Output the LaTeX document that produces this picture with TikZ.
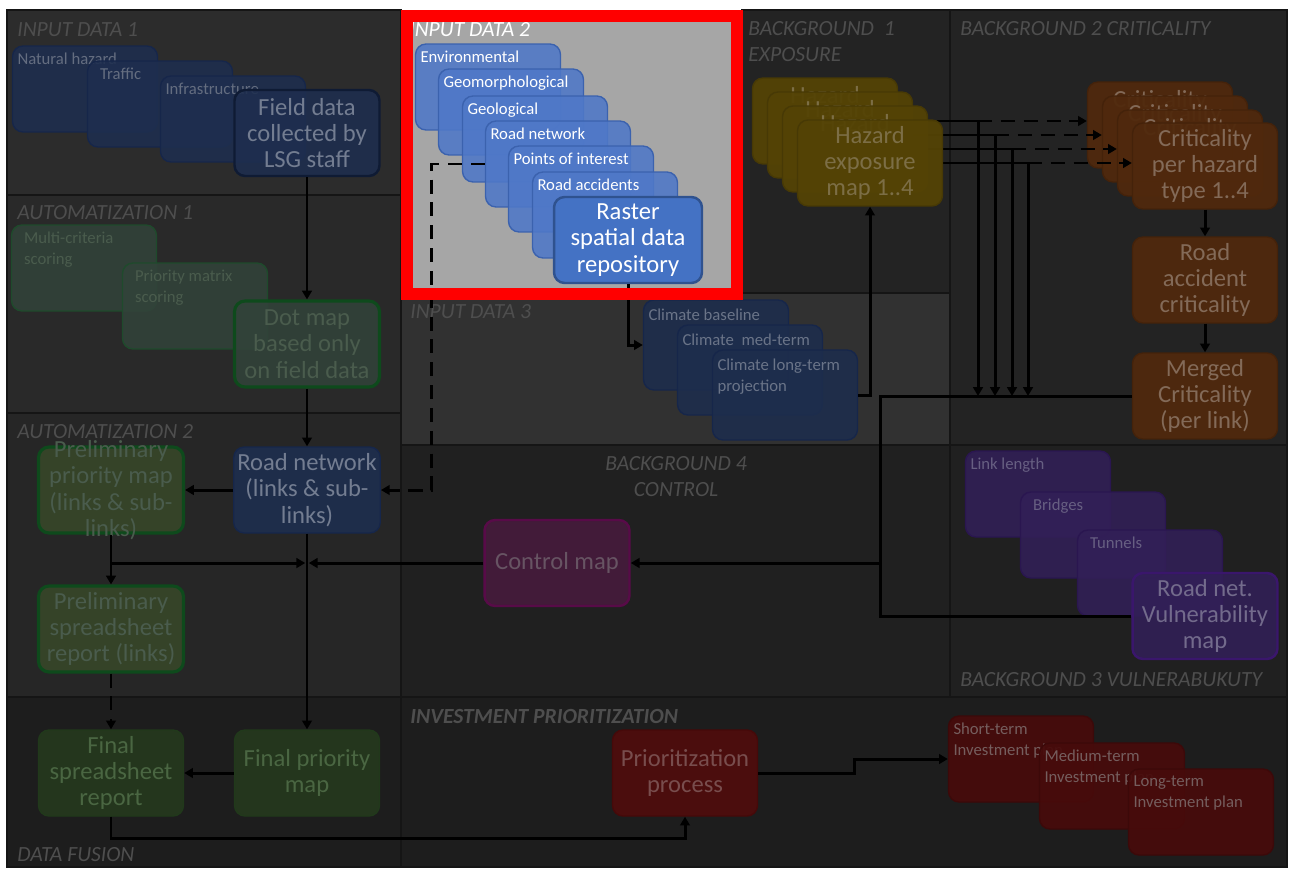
\documentclass[tikz,border=0pt]{standalone}
\usepackage{fontspec}
\setmainfont{Carlito}
\usetikzlibrary{arrows.meta,positioning,calc,backgrounds}
\definecolor{pnledge}{HTML}{151515}
\definecolor{pnltext}{HTML}{4E4E4E}
\definecolor{pnlin}{HTML}{2C2C2C}
\definecolor{pnlauto}{HTML}{292929}
\definecolor{pnlautob}{HTML}{262626}
\definecolor{pnldark}{HTML}{1D1D1D}
\definecolor{pnlbg}{HTML}{232323}
\definecolor{pnlbgb}{HTML}{202020}
\definecolor{pnlclim}{HTML}{313131}
\definecolor{pnlgray}{HTML}{A6A6A6}
\definecolor{hilite}{HTML}{FF0000}
\definecolor{blufill}{HTML}{1E2E4F}
\definecolor{bluline}{HTML}{16264A}
\definecolor{blutext}{HTML}{737D91}
\definecolor{blustext}{HTML}{646D80}
\definecolor{grnfill}{HTML}{32433A}
\definecolor{grnline}{HTML}{1F4A2C}
\definecolor{grntext}{HTML}{4A5C4D}
\definecolor{olvfill}{HTML}{384829}
\definecolor{olvline}{HTML}{0E4A1C}
\definecolor{finfill}{HTML}{253A1E}
\definecolor{finline}{HTML}{21391B}
\definecolor{fintext}{HTML}{4A6642}
\definecolor{in2fill}{HTML}{4F78C8}
\definecolor{in2line}{HTML}{3B62AE}
\definecolor{rasfill}{HTML}{4472C4}
\definecolor{rasline}{HTML}{2F528F}
\definecolor{hazfill}{HTML}{544305}
\definecolor{hazline}{HTML}{473905}
\definecolor{haztext}{HTML}{7C6E46}
\definecolor{crifill}{HTML}{50290D}
\definecolor{criline}{HTML}{44220A}
\definecolor{critext}{HTML}{836A58}
\definecolor{climfill}{HTML}{1D2D4D}
\definecolor{climtext}{HTML}{6A7488}
\definecolor{purfill}{HTML}{321F57}
\definecolor{purline}{HTML}{2A1650}
\definecolor{purtext}{HTML}{675F82}
\definecolor{vultext}{HTML}{736B8C}
\definecolor{vulline}{HTML}{3A166C}
\definecolor{ctlfill}{HTML}{471B3D}
\definecolor{ctlline}{HTML}{580B48}
\definecolor{ctltext}{HTML}{675463}
\definecolor{procfill}{HTML}{520B0B}
\definecolor{proctext}{HTML}{784D4D}
\definecolor{invfill}{HTML}{470B0B}
\definecolor{invtext}{HTML}{755E5E}
\newcommand{\bigtxt}{\fontsize{14}{15}\selectfont}
\newcommand{\smtxt}{\fontsize{9.5}{12}\selectfont}
\newcommand{\pnltxt}{\fontsize{12.3}{14.7}\selectfont\itshape}
\newcommand{\stk}[1]{\parbox[t][1.45cm][t]{2.7cm}{\raggedright #1}}
\newcommand{\topline}[1]{\parbox[c][1.4cm][t]{2.7cm}{\centering #1}}
\pgfdeclarelayer{wires}
\pgfsetlayers{background,wires,main}

\begin{document}
\begin{tikzpicture}[x=0.02cm, y=-0.02cm,
    box/.style={rectangle, rounded corners=6pt, minimum width=2.9cm,
        minimum height=1.72cm, inner sep=2pt, align=center, font=\bigtxt,
        line width=0.8pt, fill opacity=0.88, text opacity=1},
    stackbox/.style={box, font=\smtxt},
    blustk/.style={stackbox, fill=blufill, draw=bluline, text=blustext},
    blubox/.style={box, fill=blufill, draw=bluline, text=blutext},
    grnstk/.style={stackbox, fill=grnfill, draw=grnline, text=grntext},
    dotbox/.style={box, fill=grnfill, draw=olvline, line width=1.8pt, text=grntext},
    prelbox/.style={box, fill=olvfill, draw=olvline, line width=1.8pt, text=grntext},
    finbox/.style={box, fill=finfill, draw=finline, text=fintext},
    in2stk/.style={stackbox, fill=in2fill, draw=in2line, text=white},
    rasbox/.style={box, fill=rasfill, draw=rasline, line width=1.4pt, text=white,
        minimum width=2.96cm, fill opacity=1},
    hazbox/.style={box, fill=hazfill, draw=hazline, text=haztext, fill opacity=0.95},
    cribox/.style={box, fill=crifill, draw=criline, text=critext, fill opacity=0.95},
    climstk/.style={stackbox, fill=climfill, draw=bluline, text=climtext,
        minimum height=1.8cm},
    purstk/.style={stackbox, fill=purfill, draw=purline, text=purtext},
    purbox/.style={box, fill=purfill, draw=vulline, line width=1.4pt, text=vultext},
    ctlbox/.style={box, fill=ctlfill, draw=ctlline, line width=1.4pt, text=ctltext},
    procbox/.style={box, fill=procfill, draw=procfill!85!black, text=proctext},
    invstk/.style={stackbox, fill=invfill, draw=invfill!85!black, text=invtext,
        fill opacity=0.93},
    pnl/.style={draw=pnledge, line width=1pt},
    pnllabel/.style={font=\pnltxt, text=pnltext, anchor=west, inner sep=0pt,
        align=left},
    line/.style={line width=1.7pt},
    wire/.style={line, -{Triangle[length=5pt,width=5.5pt]}},
    dwire/.style={wire, dash pattern=on 8pt off 5pt}
]
\useasboundingbox (0,0) rectangle (1291,869);

% panels
\begin{scope}[on background layer]
\fill[white] (0,0) rectangle (1291,869);
\filldraw[pnl, fill=pnlin] (7,10) rectangle (401,195);
\filldraw[pnl, fill=pnlauto] (7,195) rectangle (401,413);
\filldraw[pnl, fill=pnlautob] (7,413) rectangle (401,697);
\filldraw[pnl, fill=pnldark] (7,697) rectangle (401,867);
\filldraw[pnl, fill=pnlbg] (742,10) rectangle (950,293);
\filldraw[pnl, fill=pnlclim] (401,293) rectangle (950,445);
\filldraw[pnl, fill=pnlbg] (950,10) rectangle (1287,445);
\filldraw[pnl, fill=pnlbgb] (401,445) rectangle (950,697);
\filldraw[pnl, fill=pnlbgb] (950,445) rectangle (1287,697);
\filldraw[pnl, fill=pnldark] (401,697) rectangle (1287,867);
\fill[pnlgray] (401,10) rectangle (742,293);
\end{scope}

\node[pnllabel] (lin1) at (17,30) {INPUT DATA 1};
\node[pnllabel] (lau1) at (17,213) {AUTOMATIZATION 1};
\node[pnllabel] (lau2) at (17,432) {AUTOMATIZATION 2};
\node[pnllabel] (lfus) at (17,855) {DATA FUSION};
\node[pnllabel, text=white] (lin2) at (409,30) {INPUT DATA 2};
\node[pnllabel, anchor=north west] (lbg1) at (748,21) {BACKGROUND\ \ 1\\EXPOSURE};
\node[pnllabel] (lbg2) at (960,29) {BACKGROUND 2 CRITICALITY};
\node[pnllabel] (lin3) at (410,312) {INPUT DATA 3};
\node[pnllabel, anchor=north, align=center] (lbg4) at (676,456) {BACKGROUND 4\\CONTROL};
\node[pnllabel] (lbg3) at (960,680) {BACKGROUND 3 VULNERABUKUTY};
\node[pnllabel, font=\pnltxt\bfseries] (linv) at (410,716) {INVESTMENT PRIORITIZATION};

% input data 1
\node[blustk] (nathaz) at (85,89) {\stk{Natural hazard}};
\node[blustk] (traffic) at (160,104) {\stk{\ \ Traffic}};
\node[blustk] (infra) at (233,119) {\stk{Infrastructure}};
\node[blubox, line width=1.4pt, draw=bluline!70!black] (field) at (307,133) {Field data\\collected by\\LSG staff};

% automatization 1
\node[grnstk] (mcrit) at (84,268) {\stk{\ \ Multi-criteria\\\ \ scoring}};
\node[grnstk] (pmat) at (195,306) {\stk{\ \ Priority matrix\\\ \ scoring}};
\node[dotbox] (dotmap) at (307,344) {Dot map\\based only\\on field data};

% automatization 2
\node[prelbox] (prelmap) at (111,490) {\parbox[c][1.3cm][c]{2.7cm}{\centering Preliminary\\priority map\\(links \& sub-\\links)}};
\node[blubox] (roadnet) at (307,490) {Road network\\(links \& sub-\\links)};
\node[prelbox] (prelsheet) at (111,629) {Preliminary\\spreadsheet\\report (links)};

% data fusion
\node[finbox] (finsheet) at (111,773) {Final\\spreadsheet\\report};
\node[finbox] (finmap) at (307,773) {Final priority\\map};

% input data 2
\node[in2stk] (env) at (488,87) {\stk{Environmental}};
\node[in2stk] (geomorph) at (511,112) {\stk{Geomorphological}};
\node[in2stk] (geol) at (535,139) {\stk{Geological}};
\node[in2stk] (rnet2) at (558,164) {\stk{Road network}};
\node[in2stk] (poi) at (581,189) {\stk{Points of interest}};
\node[in2stk] (accid) at (605,215) {\stk{Road accidents}};
\node[rasbox] (raster) at (628,240) {Raster\\spatial data\\repository};

% input data 3
\node[climstk] (cbase) at (716,345) {\stk{Climate baseline}};
\node[climstk] (cmed) at (750,370) {\stk{Climate\ \ med-term}};
\node[climstk] (clong) at (785,395) {\stk{Climate long-term\\projection}};

% background 1
\node[hazbox] (hz1) at (825,121) {\topline{Hazard}};
\node[hazbox] (hz2) at (840,135) {\topline{Hazard}};
\node[hazbox] (hz3) at (855,149) {\topline{Hazard}};
\node[hazbox] (hz4) at (870,163) {Hazard\\exposure\\map 1..4};

% background 2
\node[cribox] (cr1) at (1160,125) {\topline{Criticality}};
\node[cribox] (cr2) at (1175,139) {\topline{Criticality}};
\node[cribox] (cr3) at (1190,153) {\topline{Criticality}};
\node[cribox] (cr4) at (1205,166) {Criticality\\per hazard\\type 1..4};
\node[cribox] (raccid) at (1205,280) {Road\\accident\\criticality};
\node[cribox] (merged) at (1205,396) {Merged\\Criticality\\(per link)};

% background 3
\node[purstk] (llen) at (1038,494) {\stk{Link length}};
\node[purstk] (bridg) at (1093,535) {\stk{\ \ Bridges}};
\node[purstk] (tunn) at (1150,573) {\stk{\ \ Tunnels}};
\node[purbox] (vuln) at (1205,616) {Road net.\\Vulnerability\\map};

% background 4
\node[ctlbox] (ctrl) at (557,563) {Control map};

% investment
\node[procbox] (proc) at (685,773) {Prioritization\\process};
\node[invstk] (stp) at (1021,759) {\stk{Short-term\\Investment plan}};
\node[invstk] (mtp) at (1112,786) {\stk{Medium-term\\Investment plan}};
\node[invstk] (ltp) at (1201,812) {\stk{Long-term\\Investment plan}};

% connectors
\coordinate (jn) at (880,0 |- merged.west);
\begin{pgfonlayer}{wires}
\foreach \i/\xx in {1/978,2/995,3/1012,4/1028}
  \draw[wire] (hz\i.east) -| coordinate[pos=0.5] (bend\i) (\xx,0 |- jn);
\end{pgfonlayer}
\foreach \i in {1,...,4}
  \draw[dwire] (bend\i) -- (cr\i.west |- bend\i);

\draw[wire] (field) -- (dotmap);
\draw[wire] (dotmap) -- (roadnet);
\draw[wire] (roadnet) -- (prelmap);
\draw[dwire] (rnet2.west) -- ++(-53,0) |- (roadnet.east);
\draw[wire] (prelmap) -- (prelsheet);
\draw[wire, shorten >=1pt] (prelmap.south |- ctrl.west) -- (roadnet.south |- ctrl.west);
\draw[wire, shorten >=1pt] (ctrl.west) -- (roadnet.south |- ctrl.west);
\draw[wire] (roadnet) -- (finmap);
\draw[dwire] (prelsheet) -- (finsheet);
\draw[wire] (finmap) -- (finsheet);
\draw[wire] (finsheet.south) -- ++(0,22) -| (proc.south);
\draw[wire] (proc.east) -- ++(96,0) |- (stp.west);
\draw[wire] (raster.south) |- (cbase.west);
\draw[wire] (clong.east) -| (hz4.south);
\draw[wire] (cr4) -- (raccid);
\draw[wire] (raccid) -- (merged);
\draw[line] (merged.west) -- (jn) |- (vuln.west);
\draw[wire] (jn |- ctrl.east) -- (ctrl.east);

% highlight frame
\draw[hilite, line width=0.24cm] (407,16) rectangle (737,294);
\end{tikzpicture}
\end{document}
